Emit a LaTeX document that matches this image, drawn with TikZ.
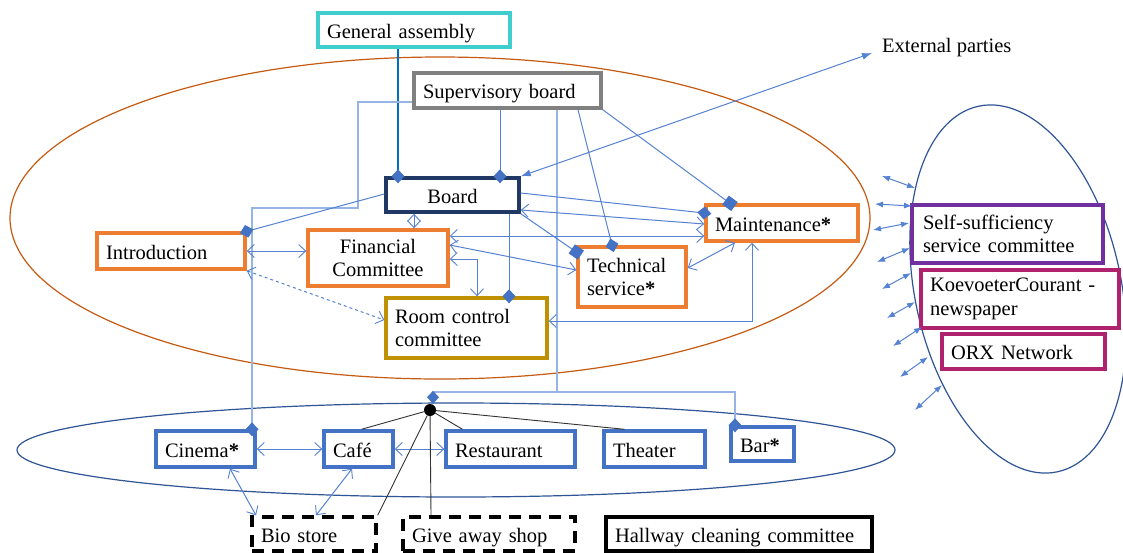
\documentclass[tikz,border=0pt]{standalone}
\usepackage{fontspec}
\setmainfont{Liberation Serif}
\usetikzlibrary{arrows.meta}
\definecolor{cyanb}{RGB}{64,205,205}
\definecolor{grayb}{RGB}{128,128,128}
\definecolor{navyb}{RGB}{32,56,100}
\definecolor{orangeb}{RGB}{237,125,49}
\definecolor{goldb}{RGB}{191,144,0}
\definecolor{purpleb}{RGB}{112,48,160}
\definecolor{magb}{RGB}{175,35,110}
\definecolor{blueb}{RGB}{68,114,196}
\definecolor{brownl}{RGB}{197,90,17}
\definecolor{ellc}{RGB}{47,85,151}
\definecolor{lnc}{RGB}{85,130,210}
\definecolor{lnlc}{RGB}{150,180,228}
\definecolor{gac}{RGB}{0,112,192}
\begin{document}
\begin{tikzpicture}[x=1pt,y=-1pt,
  bx/.style={draw, fill=white, line width=3.4pt, inner xsep=9pt, inner ysep=0pt, align=left,
    font={\fontsize{20.5}{23.5}\selectfont}},
  sl/.style={text height=16pt, text depth=0pt},
  dbx/.style={bx, draw=black, line width=3.4pt, dash pattern=on 12pt off 8pt},
  ln/.style={draw=lnc, line width=1pt},
  lnl/.style={draw=lnlc, line width=1.4pt},
  dbl/.style={{Straight Barb[length=7pt,width=13pt,line width=0.9pt]}-{Straight Barb[length=7pt,width=13pt,line width=0.9pt]}},
  dia/.style={-{Diamond[length=14pt,width=13pt,color=blueb,fill=blueb]}, shorten >=-7pt},
  sqt/.style={-{Square[length=11pt,width=11pt,color=blueb,fill=blueb]}, shorten >=-5.5pt},
  blk/.style={draw=black!80, line width=0.9pt},
  tick/.style={draw=lnc, line width=1pt, {Latex[length=8pt,width=6pt]}-{Latex[length=8pt,width=6pt]}}
]
\fill[white] (0,0) rectangle (1123,552);
\useasboundingbox (0,0) rectangle (1123,552);

% ellipses
\draw[brownl, line width=1.2pt] (440,218) ellipse [x radius=430pt, y radius=161pt];
\draw[ellc, line width=1.2pt] (456,450) ellipse [x radius=439pt, y radius=47pt];
\draw[ellc, line width=1.2pt, shift={(1018,289)}, rotate=12.2] (0,0) ellipse [x radius=103pt, y radius=187pt];

% nodes
\node[bx, sl, draw=cyanb, text width=174pt, minimum height=34pt] (ga) at (414,30) {General assembly};
\node[bx, sl, draw=grayb, text width=169pt, minimum height=35pt] (sb) at (507.5,90.5) {Supervisory board};
\node[bx, sl, draw=navyb, align=center, text width=115pt, minimum height=34pt] (board) at (452.5,195) {Board};
\node[bx, sl, draw=orangeb, text width=130pt, minimum height=36pt] (intro) at (171,251) {Introduction};
\node[bx, draw=orangeb, align=center, text width=122pt, minimum height=56pt] (fin) at (378,258) {Financial\\Committee};
\node[bx, draw=goldb, text width=143pt, minimum height=60pt] (room) at (466.5,328) {Room control\\committee};
\node[bx, draw=orangeb, text width=90pt, minimum height=60pt] (tech) at (632,277) {Technical\\service\textbf{*}};
\node[bx, sl, draw=orangeb, text width=134pt, minimum height=36pt] (maint) at (782,223) {Maintenance\textbf{*}};
\node[bx, draw=purpleb, inner xsep=11pt, text width=169pt, minimum height=58pt] (self) at (1007.5,234) {Self-sufficiency\\service committee};
\node[bx, draw=magb, text width=180pt, minimum height=58pt] (koev) at (1020,299) {KoevoeterCourant -\\newspaper};
\node[bx, sl, draw=magb, text width=145pt, minimum height=35pt] (orx) at (1023.5,351.5) {ORX Network};
\node[font={\fontsize{20.5}{23.5}\selectfont}, anchor=west, inner sep=0pt] (ext) at (882,48) {External parties};

\node[bx, sl, draw=blueb, text width=81pt, minimum height=36pt] (cinema) at (205.5,449) {Cinema\textbf{*}};
\node[bx, sl, draw=blueb, text width=51pt, minimum height=36pt] (cafe) at (358.5,449) {Café};
\node[bx, sl, draw=blueb, text width=111pt, minimum height=36pt] (rest) at (510.5,449) {Restaurant};
\node[bx, sl, draw=blueb, text width=83pt, minimum height=36pt] (theater) at (654.5,449) {Theater};
\node[bx, sl, draw=blueb, text width=45pt, minimum height=34pt] (bar) at (762.5,444) {Bar\textbf{*}};

\node[dbx, sl, text width=106pt, minimum height=34pt] (bio) at (314,534) {Bio store};
\node[dbx, sl, text width=154pt, minimum height=34pt] (give) at (489,534) {Give away shop};
\node[bx, sl, draw=black, text width=248pt, minimum height=34pt] (hall) at (739,534) {Hallway cleaning committee};

\node[circle, fill=black, inner sep=0pt, minimum size=12pt] (hub) at (430,410) {};

% connectors from general assembly / supervisory board
\draw[draw=gac, line width=1.1pt, dia] ([xshift=-16pt]ga.south) -- ([xshift=-54.5pt]board.north);
\draw[ln, dia] ([xshift=-7.5pt]sb.south) -- ([xshift=47.5pt]board.north);
\draw[lnl, dia] ([yshift=-11.5pt]sb.west) -| (358,208) -| ([xshift=46.5pt]cinema.north);
\coordinate (busj) at (557,392);
\draw[lnl] ([xshift=49.5pt]sb.south) -- (busj);
\draw[lnl, -{Diamond[length=13pt,width=12pt,color=blueb,fill=blueb]}] (busj) -| ([xshift=3pt]hub.north);
\draw[lnl, dia] (busj) -| ([xshift=-27.5pt]bar.north);
\draw[ln, dia] ([xshift=70.5pt]sb.south) -- ([xshift=-20pt]tech.north);
\draw[ln, sqt] (sb.south east) -- ([xshift=-52pt]maint.north);
\draw[ln, {Latex[length=10pt,width=7pt]}-{Latex[length=10pt,width=7pt]}] (board.north east) -- ([xshift=-10pt,yshift=-5pt]ext.west);

% board connectors
\draw[ln, dia] ([yshift=1pt]board.west) -- (intro.north east);
\draw[ln, dbl] ([xshift=-38.5pt]board.south) -- ([xshift=36pt]fin.north);
\draw[ln, dia] ([xshift=56.5pt]board.south) -- ([xshift=42.5pt]room.north);
\draw[ln, dia] ([yshift=2pt]board.east) -- ([yshift=10pt]maint.west);
\draw[ln, dbl] ([yshift=-15pt]board.east) -- ([yshift=-1pt]maint.west);
\draw[ln, sqt] (board.south east) -- ([yshift=25pt]tech.west);

% committee connectors
\draw[ln, dbl] ([yshift=22pt]fin.east) -- ([yshift=-13pt]maint.west);
\draw[ln, dbl] ([yshift=13pt]fin.east) -- ([yshift=7pt]tech.west);
\draw[ln, dbl] ([yshift=-1pt]fin.east) -| ([xshift=10.5pt]room.north);
\draw[ln, dbl] ([yshift=9pt]tech.east) -- ([xshift=-47pt]maint.south);
\draw[ln, dbl] ([xshift=-30pt]maint.south) |- ([yshift=7pt]room.east);
\draw[ln, dbl] (intro.east) -- ([yshift=7pt]fin.west);
\draw[ln, dbl, dashed] (intro.south east) -- ([yshift=8pt]room.west);

% lower connectors
\draw[ln, dbl] (cinema.east) -- (cafe.west);
\draw[ln, dbl] (cafe.east) -- (rest.west);
\draw[ln, dbl] ([xshift=24.5pt]cinema.south) -- ([xshift=-58pt]bio.north);
\draw[ln, dbl] ([xshift=-6.5pt]cafe.south) -- ([xshift=2pt]bio.north);
\draw[blk] (hub) -- ([xshift=3pt]cafe.north);
\draw[blk] (hub) -- ([xshift=-48pt]rest.north);
\draw[blk] (hub) -- ([xshift=-30pt]theater.north);
\draw[blk] (hub) -- (bio.north east);
\draw[blk] (hub) -- ([xshift=-58pt]give.north);

% external relation arrows at the right ellipse
\foreach \ax/\ay/\bx/\by in {882/176/915/188, 875/204/912/206, 873/230/909/223, 877/262/910/248,
  882/289/911/273, 887/318/915/302, 893/346/922/327, 900/377/928/357, 915/410/942/385}{
  \draw[tick] (\ax,\ay) -- (\bx,\by);
}
\end{tikzpicture}
\end{document}
